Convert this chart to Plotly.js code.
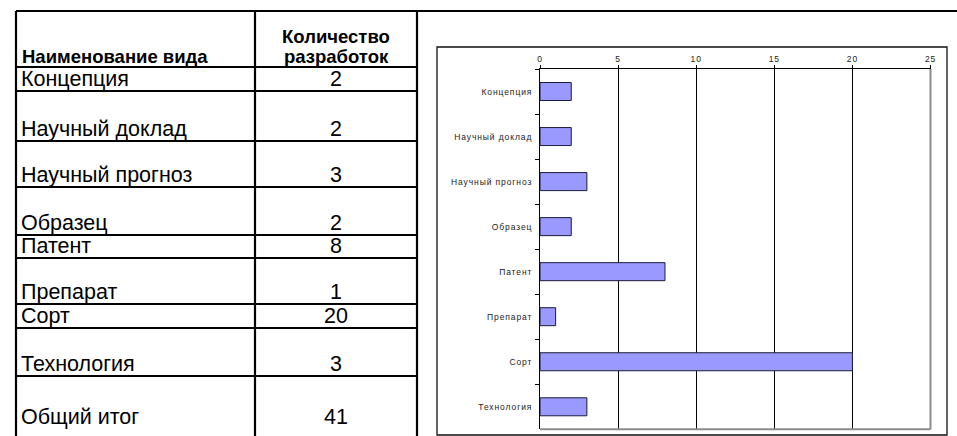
<!DOCTYPE html>
<html><head><meta charset="utf-8">
<script src="https://cdn.plot.ly/plotly-3.0.1.min.js"></script>
<style>
html,body{margin:0;padding:0;background:#fff;}
#chart{width:957px;height:436px;}
.xtick text,.ytick text{letter-spacing:0.9px;}
</style>
</head><body><div id="chart"></div>
<script>
// ---- data ----
const categories = ['Концепция','Научный доклад','Научный прогноз','Образец','Патент','Препарат','Сорт','Технология'];
const counts = [2,2,3,2,8,1,20,3];
const headerName = 'Наименование вида';
const headerCountLines = ['Количество','разработок'];
const totalLabel = 'Общий итог';
const xTickValues = [0,5,10,15,20,25];

// ---- layout constants (pixels) ----
const W = 957, H = 436;
const TBL = {left:16, mid:255, right:417, top:11, headBottom:67};
const rowHeights = [24,50,46,48,23,46,24,48,53]; // visual row heights of the table (categories + total)
const PLOT = {x0:540, x1:930.5, y0:69, y1:429.3};
const FRAME = {x0:437, x1:947, y0:47, y1:435};

const total = counts.reduce((a,b)=>a+b,0);
const rowNames = categories.concat([totalLabel]);
const rowVals = counts.concat([total]);

// row bottoms
const bottoms = [];
let yb = TBL.headBottom;
rowHeights.forEach(h => { yb += h; bottoms.push(yb); });

const FAM = 'Liberation Sans, Arial, sans-serif';
const tFont = {family:FAM, size:21.5, color:'#000'};
const tFontB = {family:FAM, size:18.5, color:'#000', weight:'bold'};

const annotations = [];
const ann = (x, y, text, xanchor, font) => annotations.push({
  xref:'x2', yref:'y2', x, y, text, xanchor, yanchor:'bottom',
  showarrow:false, font, borderpad:0, borderwidth:0
});
const cx = (TBL.mid + TBL.right)/2;
ann(TBL.left + 6, TBL.headBottom, headerName, 'left', tFontB);
ann(cx, TBL.headBottom - 20.5, headerCountLines[0], 'center', tFontB);
ann(cx, TBL.headBottom, headerCountLines[1], 'center', tFontB);
rowNames.forEach((n,i) => {
  ann(TBL.left + 5, bottoms[i], n, 'left', tFont);
  ann(cx, bottoms[i], String(rowVals[i]), 'center', tFont);
});

const shapes = [];
const ln = (x0,y0,x1,y1,w) => shapes.push({type:'line', xref:'x2', yref:'y2', x0,y0,x1,y1, line:{color:'#000', width:w}});
// table lines
ln(TBL.left, TBL.top, W, TBL.top, 2.2);
[TBL.left, TBL.mid, TBL.right].forEach(x => ln(x, TBL.top, x, H + 5, 2.2));
[TBL.headBottom].concat(bottoms.slice(0, -1)).forEach(y => ln(TBL.left, y, TBL.right, y, 2.2));
// chart frame
shapes.push({type:'rect', xref:'x2', yref:'y2', x0:FRAME.x0, y0:FRAME.y0, x1:FRAME.x1, y1:FRAME.y1, line:{color:'#111', width:1.3}});
// plot area right / bottom gray border
shapes.push({type:'line', xref:'x domain', yref:'y domain', x0:1, y0:0, x1:1, y1:1, line:{color:'#8c8c8c', width:2}, layer:'above'});
shapes.push({type:'line', xref:'x domain', yref:'y domain', x0:0, y0:0, x1:1, y1:0, line:{color:'#8c8c8c', width:2}, layer:'above'});

const chartFont = {family:FAM, size:8.5, color:'#222'};

const data = [
  {type:'bar', orientation:'h', y:categories, x:counts,
   marker:{color:'#9999FF', line:{color:'#1c1c3c', width:1}},
   hoverinfo:'x+y', xaxis:'x', yaxis:'y', showlegend:false},
  {type:'scatter', mode:'markers', x:[], y:[], xaxis:'x2', yaxis:'y2', showlegend:false, hoverinfo:'skip'}
];

const layout = {
  width:W, height:H, margin:{l:0,r:0,t:0,b:0},
  paper_bgcolor:'#fff', plot_bgcolor:'rgba(0,0,0,0)',
  bargap:0.6, showlegend:false,
  font:chartFont,
  xaxis:{domain:[PLOT.x0/W, PLOT.x1/W], anchor:'y', side:'top', range:[0,25],
    tickvals:xTickValues, ticktext:xTickValues.map(String),
    ticks:'outside', ticklen:3, tickcolor:'#000', tickwidth:1,
    showgrid:true, gridcolor:'#000', gridwidth:1, zeroline:false,
    showline:true, linecolor:'#000', linewidth:1, tickfont:chartFont, fixedrange:true},
  yaxis:{domain:[1-PLOT.y1/H, 1-PLOT.y0/H], anchor:'x', type:'category', autorange:'reversed',
    ticks:'outside', tickson:'boundaries', ticklen:4, tickcolor:'#000', tickwidth:1,
    showgrid:false, zeroline:false, showline:true, linecolor:'#000', linewidth:1,
    tickfont:chartFont, ticklabelstandoff:5, fixedrange:true},
  xaxis2:{domain:[0,1], anchor:'y2', range:[0,W], visible:false, fixedrange:true},
  yaxis2:{domain:[0,1], anchor:'x2', range:[H,0], visible:false, fixedrange:true},
  shapes, annotations
};

Plotly.newPlot('chart', data, layout, {displayModeBar:false, staticPlot:true});
</script>
</body></html>
